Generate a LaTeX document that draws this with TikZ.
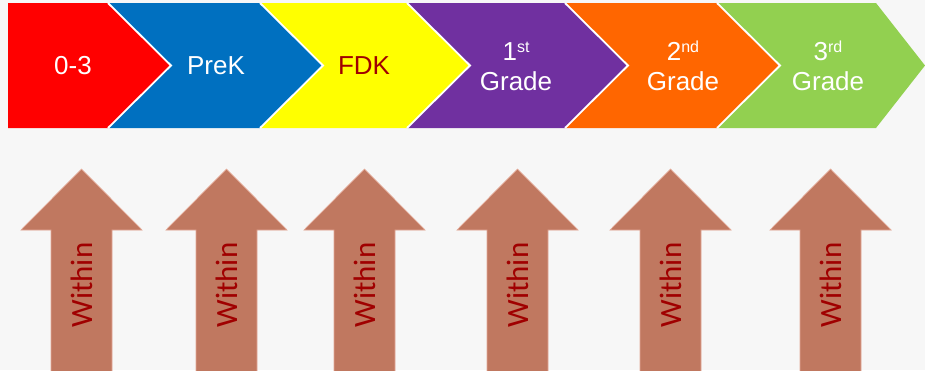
\documentclass[tikz,border=0pt]{standalone}
\usepackage{fontspec}
\setmainfont{Liberation Sans}
\newfontfamily\withinfont{Carlito}
\definecolor{pagebg}{HTML}{F7F7F7}
\definecolor{cred}{HTML}{FF0000}
\definecolor{cblue}{HTML}{0070C0}
\definecolor{cyellow}{HTML}{FFFF00}
\definecolor{cpurple}{HTML}{7030A0}
\definecolor{corange}{HTML}{FF6600}
\definecolor{cgreen}{HTML}{92D050}
\definecolor{upfill}{HTML}{C07860}
\definecolor{upedge}{HTML}{E2A896}
\definecolor{darkred}{HTML}{A00000}
% raised ordinal suffix
\newcommand{\ordsfx}[1]{\raisebox{8pt}{\fontsize{16}{16}\selectfont #1}}
\begin{document}
\begin{tikzpicture}[x=1pt,y=-1pt,
  seam/.style={draw=white,line width=1.8pt,line join=miter},
  stagelbl/.style={inner sep=0pt,align=center,text=white,
    font=\fontsize{26}{30}\selectfont},
  uparrow/.style={fill=upfill,draw=upedge,line width=0.7pt},
  withinlbl/.style={inner sep=0pt,rotate=90,text=darkred,
    font=\withinfont\fontsize{31}{31}\selectfont}]
\fill[pagebg] (0,0) rectangle (925,370);
\useasboundingbox (0,0) rectangle (925,370);
\clip (0,0) rectangle (925,370);

% stage chevrons
\fill[cred] (8,3) -- (108,3) -- (171,65.5) -- (108,128) -- (8,128) -- cycle;
\foreach \l/\r/\tip/\col in {108/260/323/cblue, 260/407/470/cyellow,
    407/565/628/cpurple, 565/717/780/corange, 717/876/925/cgreen}
  \fill[\col] (\l,3) -- (\r,3) -- (\tip,65.5) -- (\r,128) -- (\l,128)
    -- (\l+63,65.5) -- cycle;
% white seams between neighbouring chevrons
\foreach \r/\tip in {108/171, 260/323, 407/470, 565/628, 717/780}
  \draw[seam] (\r,3) -- (\tip,65.5) -- (\r,128);

\node[stagelbl] (s0) at (73,65.5) {0-3};
\node[stagelbl] (s1) at (216,65.5) {PreK};
\node[stagelbl,text=darkred] (s2) at (364,65.5) {FDK};
\node[stagelbl] (s3) at (516,66) {1\ordsfx{st}\\Grade};
\node[stagelbl] (s4) at (683,66) {2\ordsfx{nd}\\Grade};
\node[stagelbl] (s5) at (828,66) {3\ordsfx{rd}\\Grade};

% upward arrows
\foreach \c [count=\i] in {81.5,226.5,364.5,517.5,670.5,830.5} {
  \draw[uparrow] (\c,169) -- (\c+60.5,230) -- (\c+30.5,230) -- (\c+30.5,372)
    -- (\c-30.5,372) -- (\c-30.5,230) -- (\c-60.5,230) -- cycle;
  \node[withinlbl] (w\i) at (\c,285) {Within};
}
\end{tikzpicture}
\end{document}
